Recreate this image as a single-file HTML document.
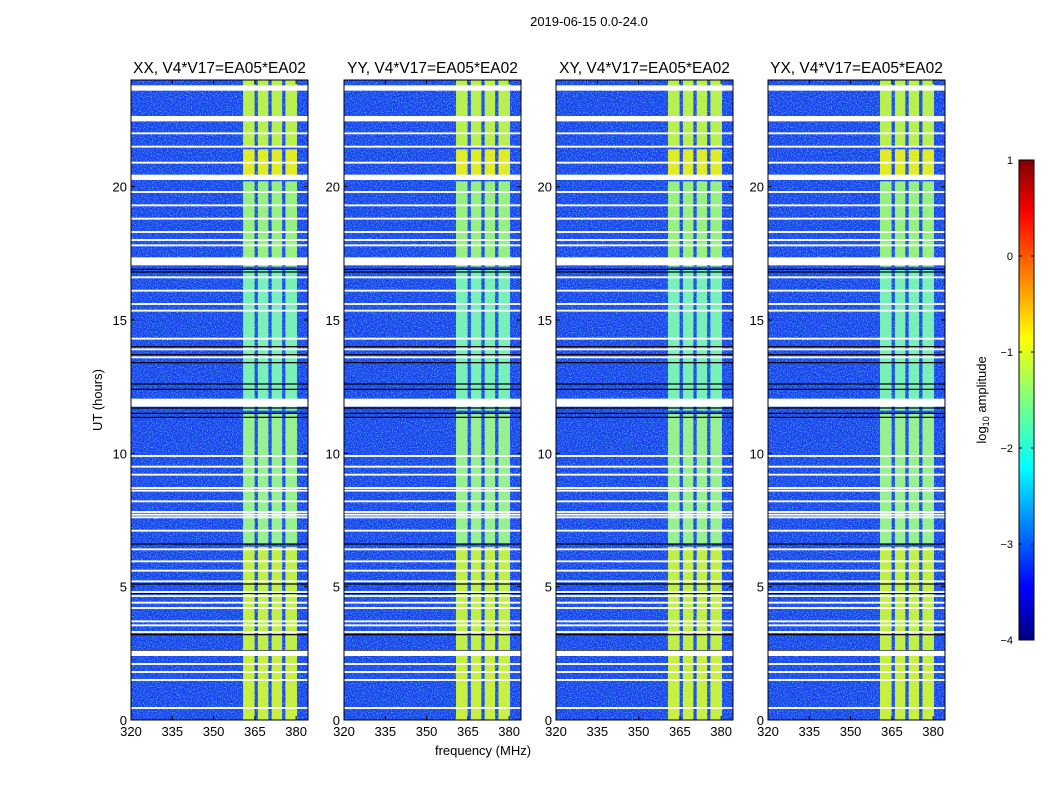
<!DOCTYPE html>
<html><head><meta charset="utf-8"><style>
body{margin:0;background:#fff;}
svg{display:block;font-family:"Liberation Sans",sans-serif;}
</style></head><body>
<svg id="c" width="1050" height="800" xmlns="http://www.w3.org/2000/svg">
<defs>
<filter id="noise" x="0" y="0" width="100%" height="100%">
<feTurbulence type="fractalNoise" baseFrequency="0.8" numOctaves="2" seed="3"/>
<feColorMatrix values="0 0 0 0 0.1  0 0 0 0 0.65  0 0 0 0 1  0 0 0 3 -1.35"/>
</filter>
<filter id="noise2" x="0" y="0" width="100%" height="100%">
<feTurbulence type="fractalNoise" baseFrequency="0.85" numOctaves="2" seed="11"/>
<feColorMatrix values="0 0 0 0 0  0 0 0 0 0.05  0 0 0 0 0.6  0 0 0 3 -1.4"/>
</filter>
<linearGradient id="jet" x1="0" y1="1" x2="0" y2="0">
<stop offset="0" stop-color="#00007f"/><stop offset="0.11" stop-color="#0000ff"/>
<stop offset="0.36" stop-color="#00ffff"/><stop offset="0.5" stop-color="#7fff7f"/>
<stop offset="0.63" stop-color="#ffff00"/><stop offset="0.89" stop-color="#ff0000"/>
<stop offset="1" stop-color="#7f0000"/>
</linearGradient>
</defs>
<text x="589" y="26" font-size="13" text-anchor="middle">2019-06-15 0.0-24.0</text>
<text x="483" y="755" font-size="13" text-anchor="middle">frequency (MHz)</text>
<text transform="translate(102,400) rotate(-90)" font-size="13" text-anchor="middle">UT (hours)</text>
<text transform="translate(986,400) rotate(-90)" font-size="13" text-anchor="middle">log<tspan font-size="9" dy="3">10</tspan><tspan dy="-3"> amplitude</tspan></text>
</svg>
<script>
const panelTitles=["XX, V4*V17=EA05*EA02","YY, V4*V17=EA05*EA02","XY, V4*V17=EA05*EA02","YX, V4*V17=EA05*EA02"];
const xTicks=[320,335,350,365,380];
const yTicks=[0,5,10,15,20];
const cbTicks=[1,0,-1,-2,-3,-4];
const bandStart=[360.7,366.1,371.1,376.1];
const bandEnd=[364.9,369.9,374.9,380.3];
const bandSegStart=[0,2.6,6.6,11.6,17.0,20.3,21.5];
const bandSegEnd=[2.5,6.5,11.5,16.9,20.2,21.4,24];
const bandSegColor=["#c8f040","#c0f048","#98f090","#78f0b8","#98f080","#e0ec28","#b8f050"];
const gapHour=[23.7,22.55,22.0,21.5,20.9,20.35,19.8,19.3,18.8,18.3,18.0,17.8,17.2,16.6,16.1,15.6,15.35,14.3,13.9,13.6,11.9,9.9,9.5,9.2,8.7,8.6,8.2,7.8,7.7,7.6,7.1,6.4,5.95,5.6,5.2,4.8,4.65,4.4,4.2,3.7,3.55,3.3,2.5,2.1,1.8,1.5,0.45];
const gapWidth=[0.2,0.2,0.07,0.07,0.07,0.2,0.07,0.07,0.07,0.07,0.07,0.07,0.3,0.07,0.07,0.07,0.07,0.07,0.07,0.07,0.3,0.07,0.07,0.07,0.07,0.07,0.07,0.07,0.07,0.07,0.07,0.07,0.07,0.07,0.07,0.07,0.07,0.07,0.07,0.07,0.07,0.07,0.2,0.07,0.07,0.07,0.07];
const blackHour=[20.4,17.1,16.9,16.8,14.0,13.7,13.4,12.6,12.4,11.7,11.5,11.35,7.8,6.6,5.1,4.75,3.2,2.6];
const panelLeft=[131,344,556,768];
const PW=177,PT=80,PB=720,XMIN=320,XMAX=384.3,YMAX=24;
const svg=document.getElementById('c');
const NS='http://www.w3.org/2000/svg';
function mk(t,a,p){const e=document.createElementNS(NS,t);for(const k in a)e.setAttribute(k,a[k]);(p||svg).appendChild(e);return e;}
function sy(h){return PB-(h/YMAX)*(PB-PT);}
panelLeft.forEach((L,pi)=>{
  const sx=f=>L+(f-XMIN)/(XMAX-XMIN)*PW;
  const g=mk('g',{});
  
  
  const bg=mk('rect',{x:L,y:PT,width:PW,height:PB-PT,fill:'#1e3cf0'},g);
  
  
  mk('rect',{x:L,y:PT,width:PW,height:PB-PT,filter:'url(#noise)',opacity:0.85},g);
  mk('rect',{x:L,y:PT,width:PW,height:PB-PT,filter:'url(#noise2)',opacity:0.7},g);
  bandSegStart.forEach((s,si)=>{
    bandStart.forEach((b,bi)=>{
      const r=mk('rect',{x:sx(b),y:sy(bandSegEnd[si]),width:sx(bandEnd[bi])-sx(b),height:sy(s)-sy(bandSegEnd[si]),fill:bandSegColor[si]},g);
      
      
    });
  });
  blackHour.forEach(h=>{
    const r=mk('rect',{x:L,y:sy(h)-0.6,width:PW,height:1.2,fill:'#000'},g);
    
    
  });
  gapHour.forEach((h,i)=>{
    const y0=sy(h+gapWidth[i]/2),y1=sy(h-gapWidth[i]/2);
    const r=mk('rect',{x:L,y:y0,width:PW,height:Math.max(1.5,y1-y0),fill:'#fff'},g);
    
    
  });
  mk('rect',{x:L,y:PT,width:PW,height:PB-PT,fill:'none',stroke:'#000','stroke-width':1},g);
  const t=mk('text',{x:L+PW/2,y:PT-7,'font-size':15.5,'text-anchor':'middle'},g);
  t.textContent=panelTitles[pi];
  
  
  xTicks.forEach(v=>{
    const x=sx(v);
    mk('line',{x1:x,x2:x,y1:PB,y2:PB-4,stroke:'#000'},g);
    mk('line',{x1:x,x2:x,y1:PT,y2:PT+4,stroke:'#000'},g);
    const tl=mk('text',{x:x,y:PB+16,'font-size':13,'text-anchor':'middle'},g);
    tl.textContent=v;
    
    
  });
  yTicks.forEach(v=>{
    const y=sy(v);
    mk('line',{x1:L,x2:L+4,y1:y,y2:y,stroke:'#000'},g);
    mk('line',{x1:L+PW,x2:L+PW-4,y1:y,y2:y,stroke:'#000'},g);
    const tl=mk('text',{x:L-4,y:y+5,'font-size':13,'text-anchor':'end'},g);
    tl.textContent=v;
    
    
  });
});
const CBX=1019,CBW=15,CBT=160,CBB=640;
const cb=mk('rect',{x:CBX,y:CBT,width:CBW,height:CBB-CBT,fill:'url(#jet)',stroke:'#000'});


cbTicks.forEach(v=>{
  const y=CBB-(v+4)/5*(CBB-CBT);
  mk('line',{x1:CBX,x2:CBX+3,y1:y,y2:y,stroke:'#000'});
  mk('line',{x1:CBX+CBW,x2:CBX+CBW-3,y1:y,y2:y,stroke:'#000'});
  const tl=mk('text',{x:CBX-6,y:y+4,'font-size':11,'text-anchor':'end'});
  tl.textContent=v<0?'\u2212'+(-v):v;
  
  
});
</script>
</body></html>
